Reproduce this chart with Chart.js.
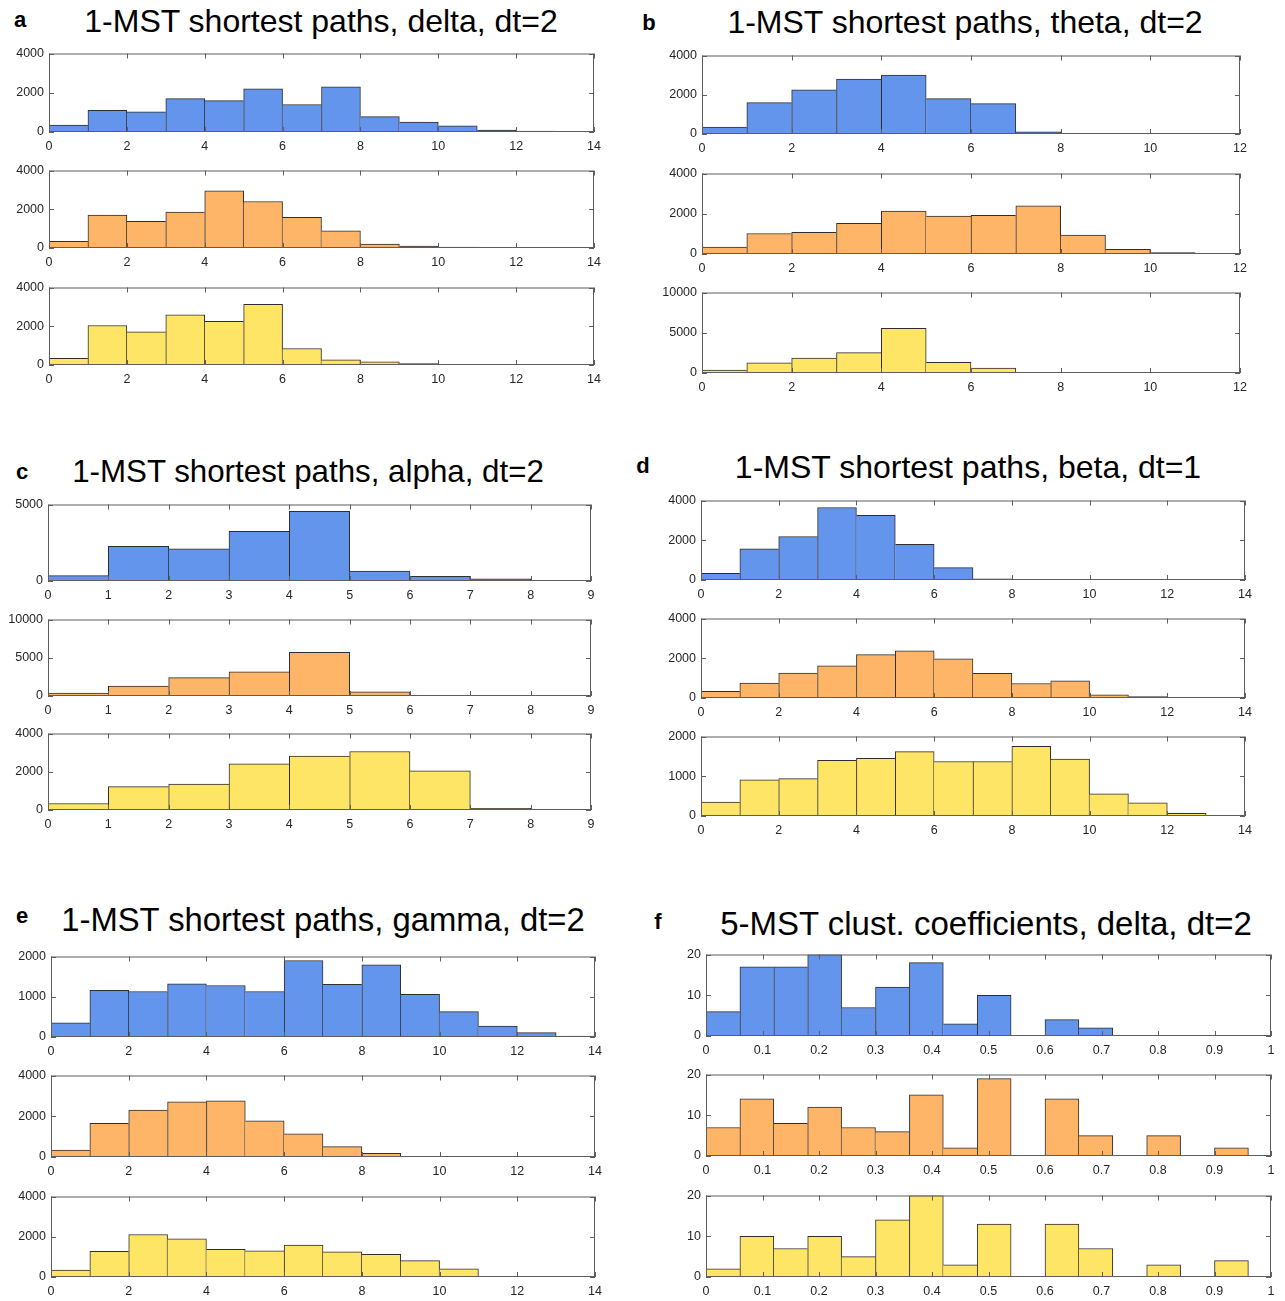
<!DOCTYPE html>
<html>
<head>
<meta charset="utf-8">
<script src="https://cdn.jsdelivr.net/npm/chart.js@4.4.0/dist/chart.umd.min.js"></script>
<style>
  html, body { margin: 0; padding: 0; background: #fff; }
  body { width: 1285px; height: 1301px; position: relative; overflow: hidden;
         font-family: "Liberation Sans", Arial, Helvetica, sans-serif; }
  .title { position: absolute; color: #000; white-space: nowrap;
           transform: translate(-50%, -50%); line-height: 1; }
  .letter { position: absolute; font-size: 22px; font-weight: bold; color: #000;
            transform: translate(-50%, -50%); line-height: 1; }
  canvas { position: absolute; }
</style>
</head>
<body>
<script>
// ---- bin left edges ----
const pathEdges14 = [0, 1, 2, 3, 4, 5, 6, 7, 8, 9, 10, 11, 12, 13];
const pathEdges12 = [0, 1, 2, 3, 4, 5, 6, 7, 8, 9, 10, 11];
const pathEdges9  = [0, 1, 2, 3, 4, 5, 6, 7, 8];
const clustEdges  = [0, 0.06, 0.12, 0.18, 0.24, 0.30, 0.36, 0.42, 0.48, 0.54, 0.60, 0.66, 0.72, 0.78, 0.84, 0.90];

// ---- counts per bin ----
const deltaCounts1 = [350, 1100, 1030, 1700, 1600, 2200, 1400, 2300, 780, 500, 320, 100, 50, 0];
const deltaCounts2 = [340, 1700, 1380, 1850, 2950, 2400, 1580, 880, 200, 100, 50, 0, 0, 0];
const deltaCounts3 = [340, 2040, 1710, 2590, 2250, 3130, 850, 270, 170, 70, 0, 0, 0, 0];

const thetaCounts1 = [350, 1600, 2250, 2800, 3000, 1800, 1550, 110, 30, 0, 0, 0];
const thetaCounts2 = [340, 1020, 1080, 1530, 2130, 1890, 1920, 2390, 940, 230, 65, 0];
const thetaCounts3 = [350, 1250, 1850, 2540, 5560, 1330, 600, 0, 0, 0, 0, 0];

const alphaCounts1 = [350, 2260, 2100, 3250, 4560, 650, 300, 150, 0];
const alphaCounts2 = [370, 1300, 2400, 3150, 5700, 550, 0, 0, 0];
const alphaCounts3 = [340, 1220, 1360, 2420, 2820, 3060, 2050, 90, 20];

const betaCounts1 = [330, 1570, 2190, 3650, 3250, 1800, 620, 65, 20, 0, 0, 0, 0, 0];
const betaCounts2 = [340, 750, 1250, 1620, 2180, 2370, 1970, 1240, 730, 860, 160, 70, 15, 0];
const betaCounts3 = [350, 910, 940, 1400, 1450, 1620, 1370, 1370, 1750, 1430, 560, 330, 70, 0];

const gammaCounts1 = [350, 1160, 1130, 1320, 1280, 1130, 1900, 1310, 1790, 1060, 630, 270, 110, 25];
const gammaCounts2 = [340, 1650, 2300, 2710, 2760, 1780, 1140, 510, 175, 30, 0, 0, 0, 0];
const gammaCounts3 = [350, 1280, 2110, 1900, 1380, 1300, 1590, 1250, 1130, 810, 400, 0, 0, 0];

const clustCounts1 = [6, 17, 17, 20, 7, 12, 18, 3, 10, 0, 4, 2, 0, 0, 0, 0];
const clustCounts2 = [7, 14, 8, 12, 7, 6, 15, 2, 19, 0, 14, 5, 0, 5, 0, 2];
const clustCounts3 = [2, 10, 7, 10, 5, 14, 20, 3, 13, 0, 13, 7, 0, 3, 0, 4];

// ---- tick labels ----
const xTicks14 = [0, 2, 4, 6, 8, 10, 12, 14];
const xTicks12 = [0, 2, 4, 6, 8, 10, 12];
const xTicks9  = [0, 1, 2, 3, 4, 5, 6, 7, 8, 9];
const xTicks1  = [0, 0.1, 0.2, 0.3, 0.4, 0.5, 0.6, 0.7, 0.8, 0.9, 1];
const yTicks2000  = [0, 1000, 2000];
const yTicks4000  = [0, 2000, 4000];
const yTicks5000  = [0, 5000];
const yTicks10000 = [0, 5000, 10000];
const yTicks20    = [0, 10, 20];

const seriesColors = ['#6495ED', '#FFB567', '#FFE566'];

// ---- page layout (plot-area boxes in page pixels) ----
const panels = [
  { letter: 'a', title: '1-MST shortest paths, delta, dt=2', letterAt: [20, 20], titleAt: [321, 21], titleSize: 32,
    left: 49, right: 594, rows: [[51, 132], [168, 248], [285, 365]],
    edges: pathEdges14, binWidth: 1, xTicks: xTicks14,
    series: [deltaCounts1, deltaCounts2, deltaCounts3], yTicks: [yTicks4000, yTicks4000, yTicks4000] },
  { letter: 'b', title: '1-MST shortest paths, theta, dt=2', letterAt: [649, 23], titleAt: [965, 22], titleSize: 32,
    left: 702, right: 1240, rows: [[53, 134], [171, 254], [290, 373]],
    edges: pathEdges12, binWidth: 1, xTicks: xTicks12,
    series: [thetaCounts1, thetaCounts2, thetaCounts3], yTicks: [yTicks4000, yTicks4000, yTicks10000] },
  { letter: 'c', title: '1-MST shortest paths, alpha, dt=2', letterAt: [22, 472], titleAt: [308, 472], titleSize: 31.3,
    left: 48, right: 591, rows: [[502, 581], [617, 696], [731, 810]],
    edges: pathEdges9, binWidth: 1, xTicks: xTicks9,
    series: [alphaCounts1, alphaCounts2, alphaCounts3], yTicks: [yTicks5000, yTicks10000, yTicks4000] },
  { letter: 'd', title: '1-MST shortest paths, beta, dt=1', letterAt: [643, 466], titleAt: [968, 467], titleSize: 32,
    left: 701, right: 1245, rows: [[498, 580], [616, 698], [734, 816]],
    edges: pathEdges14, binWidth: 1, xTicks: xTicks14,
    series: [betaCounts1, betaCounts2, betaCounts3], yTicks: [yTicks4000, yTicks4000, yTicks2000] },
  { letter: 'e', title: '1-MST shortest paths, gamma, dt=2', letterAt: [22, 916], titleAt: [323, 920], titleSize: 32.8,
    left: 51, right: 595, rows: [[954, 1037], [1073, 1157], [1194, 1277]],
    edges: pathEdges14, binWidth: 1, xTicks: xTicks14,
    series: [gammaCounts1, gammaCounts2, gammaCounts3], yTicks: [yTicks2000, yTicks4000, yTicks4000] },
  { letter: 'f', title: '5-MST clust. coefficients, delta, dt=2', letterAt: [658, 922], titleAt: [986, 923], titleSize: 33,
    left: 706, right: 1271, rows: [[952, 1036], [1072, 1156], [1193, 1277]],
    edges: clustEdges, binWidth: 0.06, xTicks: xTicks1,
    series: [clustCounts1, clustCounts2, clustCounts3], yTicks: [yTicks20, yTicks20, yTicks20] }
];

const PAD_L = 50, PAD_T = 10, PAD_R = 16, AX_H = 24;
const tickFont = { family: "'Liberation Sans', Arial, Helvetica, sans-serif", size: 12.5 };
const fmt = v => String(+Number(v).toFixed(2));

// box around the axes with inward tick marks on all four sides
const axesBox = {
  id: 'axesBox',
  afterDatasetsDraw(chart) {
    const { ctx, chartArea: a, scales: { x, y } } = chart;
    const L = 5;
    ctx.save();
    ctx.strokeStyle = '#5e5e5e';
    ctx.lineWidth = 1;
    ctx.beginPath();
    x.ticks.forEach(t => {
      const px = Math.round(x.getPixelForValue(t.value)) + 0.5;
      ctx.moveTo(px, a.bottom); ctx.lineTo(px, a.bottom - L);
      ctx.moveTo(px, a.top);    ctx.lineTo(px, a.top + L);
    });
    y.ticks.forEach(t => {
      const py = Math.round(y.getPixelForValue(t.value)) + 0.5;
      ctx.moveTo(a.left, py);  ctx.lineTo(a.left + L, py);
      ctx.moveTo(a.right, py); ctx.lineTo(a.right - L, py);
    });
    ctx.stroke();
    ctx.strokeRect(a.left + 0.5, a.top + 0.5, a.right - a.left - 1, a.bottom - a.top - 1);
    ctx.restore();
  }
};

// shared bin edges are drawn once: by whichever neighbour is taller
function edgeWidths(counts) {
  return ctx => {
    const i = ctx.dataIndex;
    const h = counts[i];
    const prev = i > 0 ? counts[i - 1] : 0;
    const next = i < counts.length - 1 ? counts[i + 1] : 0;
    return { left: prev <= h ? 1 : 0, right: next < h ? 1 : 0, top: 1, bottom: 0 };
  };
}

function histogram(p, rowIndex) {
  const [top, bottom] = p.rows[rowIndex];
  const counts = p.series[rowIndex];
  const yTicks = p.yTicks[rowIndex];
  const xTicks = p.xTicks;
  const w = (p.right - p.left) + PAD_L + PAD_R;
  const h = (bottom - top) + PAD_T + AX_H;

  const canvas = document.createElement('canvas');
  canvas.width = w; canvas.height = h;
  canvas.style.left = (p.left - PAD_L) + 'px';
  canvas.style.top = (top - PAD_T) + 'px';
  canvas.style.width = w + 'px'; canvas.style.height = h + 'px';
  document.body.appendChild(canvas);

  new Chart(canvas, {
    type: 'bar',
    data: {
      datasets: [{
        data: p.edges.map((e, i) => ({ x: e + p.binWidth / 2, y: counts[i] })),
        backgroundColor: seriesColors[rowIndex],
        borderColor: '#2e2e2e',
        borderWidth: edgeWidths(counts),
        borderSkipped: false,
        barPercentage: 1,
        categoryPercentage: 1
      }]
    },
    options: {
      responsive: false,
      animation: false,
      devicePixelRatio: 1,
      layout: { padding: { left: 0, top: PAD_T, right: PAD_R, bottom: 0 } },
      plugins: { legend: { display: false }, tooltip: { enabled: false } },
      scales: {
        x: {
          type: 'linear', offset: false,
          min: xTicks[0], max: xTicks[xTicks.length - 1],
          grid: { display: false, drawTicks: false, offset: false },
          border: { display: false },
          afterBuildTicks: s => { s.ticks = xTicks.map(v => ({ value: v })); },
          afterFit: s => { s.height = AX_H; },
          ticks: { autoSkip: false, maxRotation: 0, padding: 7, color: '#262626', font: tickFont,
                   callback: fmt }
        },
        y: {
          type: 'linear',
          min: yTicks[0], max: yTicks[yTicks.length - 1],
          grid: { display: false, drawTicks: false },
          border: { display: false },
          afterBuildTicks: s => { s.ticks = yTicks.map(v => ({ value: v })); },
          afterFit: s => { s.width = PAD_L; },
          ticks: { autoSkip: false, padding: 5, color: '#262626', font: tickFont, callback: fmt }
        }
      }
    },
    plugins: [axesBox]
  });
}

panels.forEach(p => {
  const t = document.createElement('div');
  t.className = 'title';
  t.textContent = p.title;
  t.style.fontSize = p.titleSize + 'px';
  t.style.left = p.titleAt[0] + 'px';
  t.style.top = p.titleAt[1] + 'px';
  document.body.appendChild(t);

  const l = document.createElement('div');
  l.className = 'letter';
  l.textContent = p.letter;
  l.style.left = p.letterAt[0] + 'px';
  l.style.top = p.letterAt[1] + 'px';
  document.body.appendChild(l);

  [0, 1, 2].forEach(r => histogram(p, r));
});
</script>
</body>
</html>
